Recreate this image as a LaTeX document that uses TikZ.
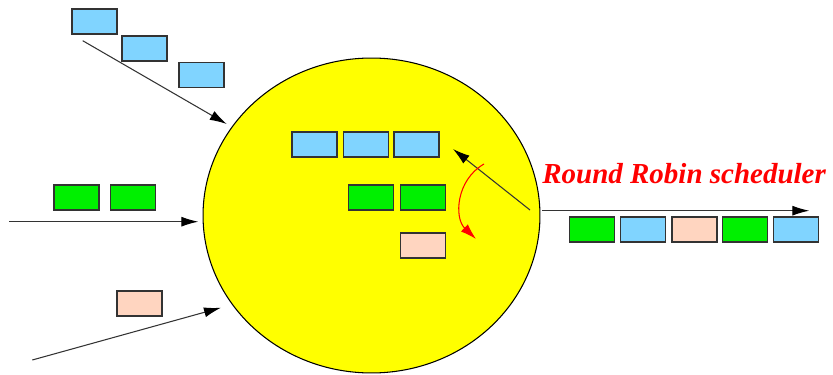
\documentclass[tikz,border=0pt]{standalone}
\usepackage{fontspec}
\setmainfont{Liberation Serif}
\usetikzlibrary{shapes.geometric,arrows.meta}

\definecolor{pktblue}{RGB}{128,212,255}
\definecolor{pktgreen}{RGB}{0,240,0}
\definecolor{pktpeach}{RGB}{255,213,192}
\definecolor{ballyellow}{RGB}{255,255,0}
\definecolor{pktedge}{RGB}{51,51,51}

\tikzset{
  pkt/.style   = {draw=pktedge, line width=1pt, inner sep=0pt,
                  minimum width=0.9cm, minimum height=0.5cm},
  flow/.style  = {draw=pktedge, line width=0.6pt,
                  -{Latex[length=0.34cm,width=0.2cm,black]}},
  spin/.style  = {draw=red, line width=0.6pt,
                  -{Latex[length=0.32cm,width=0.2cm]}}
}

\begin{document}
\begin{tikzpicture}[x=0.02cm,y=-0.02cm]
  \useasboundingbox (0,0) rectangle (833,375);

  \node[ellipse, draw=black, line width=0.6pt, fill=ballyellow, inner sep=0pt,
        minimum width=6.74cm, minimum height=6.3cm] (sched) at (371.5,215.5) {};

  % incoming queues
  \node[pkt, fill=pktblue]   (b1) at ( 94.3, 21.8) {};
  \node[pkt, fill=pktblue]   (b2) at (144.7, 48.5) {};
  \node[pkt, fill=pktblue]   (b3) at (201.2, 75.0) {};
  \node[pkt, fill=pktgreen]  (g1) at ( 76.5,197.7) {};
  \node[pkt, fill=pktgreen]  (g2) at (133.0,197.7) {};
  \node[pkt, fill=pktpeach]  (p1) at (139.5,303.7) {};

  \coordinate (bin)  at ( 82.7, 40.7);  \coordinate (bend) at (226.7,124.0);
  \coordinate (gin)  at (  9.3,221.7);  \coordinate (gend) at (198.3,221.7);
  \coordinate (pin)  at ( 32.3,360.0);  \coordinate (pend) at (221.0,307.7);

  \draw[flow] (bin) -- (bend);
  \draw[flow] (gin) -- (gend);
  \draw[flow] (pin) -- (pend);

  % queues held by the scheduler
  \node[pkt, fill=pktblue]   (qb1) at (314.5,144.5) {};
  \node[pkt, fill=pktblue]   (qb2) at (366.0,144.5) {};
  \node[pkt, fill=pktblue]   (qb3) at (416.3,144.5) {};
  \node[pkt, fill=pktgreen]  (qg1) at (371.0,197.5) {};
  \node[pkt, fill=pktgreen]  (qg2) at (423.0,197.5) {};
  \node[pkt, fill=pktpeach]  (qp1) at (423.0,245.3) {};

  \coordinate (hand) at (530,210);  \coordinate (tip)  at (453,149);
  \draw[flow] (hand) -- (tip);

  \coordinate (rs) at (484,164);    \coordinate (re) at (476,239);
  \draw[spin] (rs) .. controls (456,180) and (454,218) .. (re);

  \node[anchor=base west, inner sep=0pt, text=red,
        font=\bfseries\itshape\fontsize{16.5}{20}\selectfont]
        (rr) at (542,184) {Round Robin scheduler};

  % outgoing stream
  \coordinate (oin)  at (542,210.7);  \coordinate (oend) at (809.3,210.7);
  \draw[flow] (oin) -- (oend);

  \node[pkt, fill=pktgreen]  (o1) at (592.0,229.5) {};
  \node[pkt, fill=pktblue]   (o2) at (643.0,229.5) {};
  \node[pkt, fill=pktpeach]  (o3) at (694.3,229.5) {};
  \node[pkt, fill=pktgreen]  (o4) at (745.0,229.5) {};
  \node[pkt, fill=pktblue]   (o5) at (796.0,229.5) {};
\end{tikzpicture}
\end{document}
